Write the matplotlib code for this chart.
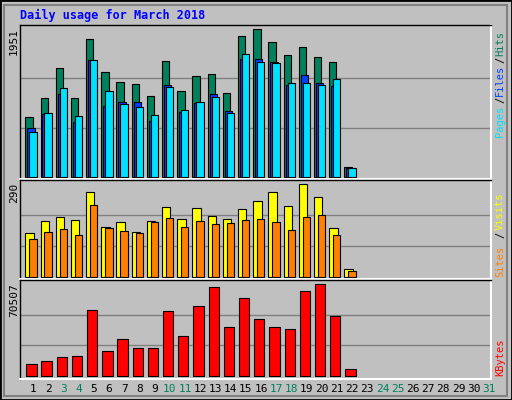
import matplotlib
matplotlib.use("Agg")
import matplotlib.pyplot as plt
from matplotlib.patches import Rectangle
import numpy as np

days = list(range(1, 32))
hits = [794,1037,1435,1037,1819,1382,1249,1223,1064,1527,1130,1329,1355,1104,1858,1951,1779,1607,1713,1580,1514,124]
files = [640,825,1090,720,1540,931,984,984,733,1209,852,971,1090,865,1554,1554,1514,1209,1342,1236,1196,110]
pages = [587,839,1170,799,1540,1130,958,918,812,1183,878,984,1051,839,1620,1514,1501,1236,1236,1209,1289,110]
visits = [136,174,186,177,265,155,171,139,174,218,180,215,190,180,211,237,265,221,290,249,152,23]
sites = [117,139,149,130,224,152,142,136,171,183,155,174,164,168,177,180,171,146,186,193,130,17]
kbytes = [8749,11065,14153,14925,50436,18785,28049,21101,21101,49664,30365,53524,68191,37313,59700,43489,37313,35769,65104,70507,45805,4889]
weekend = [3,4,10,11,17,18,24,25,31]

BG = "#c0c0c0"
C_HITS, C_FILES, C_PAGES = "#00805c", "#0040ff", "#00e0ff"
C_VIS, C_SITES, C_KB = "#ffff00", "#ff8000", "#ff0000"
W, H = 512, 400
fig = plt.figure(figsize=(W/100, H/100), dpi=100, facecolor=BG)
fig.patches.append(Rectangle((0, 0), 1, 1, transform=fig.transFigure, fill=False, ec="black", lw=2))
fig.patches.append(Rectangle((4/W, 4/H), 1-9/W, 1-9/H, transform=fig.transFigure, fill=False, ec="#808080", lw=1.5))

def mkax(y0, y1):
    ax = fig.add_axes([20/W, 1-y1/H, 471/W, (y1-y0)/H])
    ax.set_facecolor(BG)
    ax.set_xlim(0, 31)
    ax.set_xticks([])
    ax.set_yticks([])
    for s in ax.spines.values():
        s.set_color("black"); s.set_linewidth(1)
    ax.spines["right"].set_color("white"); ax.spines["bottom"].set_color("white")
    ax.spines["right"].set_linewidth(1.5); ax.spines["bottom"].set_linewidth(1.5)
    return ax

def grid(ax, m):
    for g in (m/3, 2*m/3):
        ax.axhline(g, color="#808080", lw=1, zorder=0)

x = np.arange(len(hits))
kw = dict(align="edge", edgecolor="black", linewidth=0.8, zorder=2)

ax1 = mkax(25, 179)
ax1.set_ylim(-30, 2008)
grid(ax1, 1951)
ax1.bar(x+0.35, hits, 0.48, color=C_HITS, **kw)
ax1.bar(x+0.48, files, 0.48, color=C_FILES, **kw)
ax1.bar(x+0.61, pages, 0.48, color=C_PAGES, **kw)

ax2 = mkax(180, 279)
ax2.set_ylim(-7.2, 303.5)
grid(ax2, 290)
ax2.bar(x+0.35, visits, 0.55, color=C_VIS, **kw)
ax2.bar(x+0.61, sites, 0.48, color=C_SITES, **kw)

ax3 = mkax(280, 379)
ax3.set_ylim(-2546, 73825)
grid(ax3, 70507)
ax3.bar(x+0.41, kbytes, 0.68, color=C_KB, **kw)

mono = "DejaVu Sans Mono"
fig.text(20/W, 1-15/H, "Daily usage for March 2018", color="#0000ff", family=mono,
         weight="bold", fontsize=8.5, va="center", ha="left")
for val, ytop in (("1951", 28), ("290", 183), ("70507", 283)):
    fig.text(14/W, 1-ytop/H, val, rotation=90, family=mono, fontsize=8, ha="center", va="top")

for d in days:
    fig.text((20 + (d-1+0.86)*471/31)/W, 1-389/H, str(d), family=mono, fontsize=8,
             ha="center", va="center", color=C_HITS if d in weekend else "black")

renderer = fig.canvas.get_renderer()
def side(parts, ybottom, ytop):
    total = len("".join(t for t, _ in parts))
    step = (ybottom - ytop) / total
    y = ybottom
    for txt, c in parts:
        fig.text(500/W, 1-y/H, txt, rotation=90, family=mono, fontsize=7.5,
                 ha="center", va="bottom", color=c)
        y -= len(txt)*step
side([("Pages", C_PAGES), ("/", "black"), ("Files", C_FILES), ("/", "black"), ("Hits", C_HITS)], 137, 29)
side([("Sites", C_SITES), ("/", "black"), ("Visits", C_VIS)], 277, 183)
side([("KBytes", C_KB)], 376, 340)

fig.savefig("out.png", dpi=100, facecolor=BG)
